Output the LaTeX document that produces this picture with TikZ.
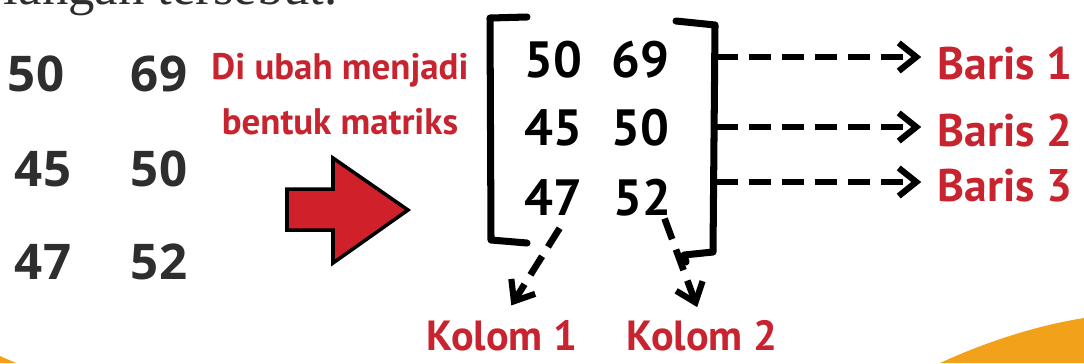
\documentclass[tikz,border=0pt]{standalone}
\usepackage{fontspec}
\usetikzlibrary{arrows.meta,positioning}
\newfontfamily\numfont{Open Sans}
\newfontfamily\handfont{PT Sans}
\newfontfamily\seriffont{Liberation Serif}
\definecolor{labelred}{HTML}{C8242F}
\definecolor{arrowred}{HTML}{D0202A}
\definecolor{numgray}{HTML}{2E2E2E}
\definecolor{bandorange}{HTML}{F2A11A}

\begin{document}
\begin{tikzpicture}[x=0.02cm,y=-0.02cm,
  num/.style={font=\numfont\bfseries\fontsize{28}{30}\selectfont,text=numgray,inner sep=0pt},
  entry/.style={font=\handfont\bfseries\fontsize{29}{30}\selectfont,inner sep=0pt},
  redlabel/.style={font=\handfont\bfseries\fontsize{26}{28}\selectfont,text=labelred,inner sep=0pt},
  bracket/.style={line width=4pt,line cap=round,line join=round},
  dasharrow/.style={line width=3.8pt,dash pattern=on 12.5pt off 6.3pt,
    -{Straight Barb[length=10pt,width=16pt,line width=3.5pt]}}]
\useasboundingbox (0,0) rectangle (1084,363);
\clip (0,0) rectangle (1084,363);
\fill[white] (0,0) rectangle (1084,363);
\fill[bandorange] (940,363) .. controls (990,340) and (1040,325) .. (1084,318) -- (1084,363) -- cycle;
\fill[bandorange] (0,356) .. controls (6,359) and (12,361) .. (16,363) -- (0,363) -- cycle;
\node[font=\seriffont\fontsize{30}{32}\selectfont,text=numgray,anchor=base east,inner sep=0pt] (caption) at (338,4) {langan tersebut.};

% numbers before
\node[num] (a11) at (36,74) {50};
\node[num] (a12) at (159,74) {69};
\node[num] (a21) at (43,169) {45};
\node[num] (a22) at (159,169) {50};
\node[num] (a31) at (43,262) {47};
\node[num] (a32) at (159,262) {52};

\node[redlabel,font=\handfont\bfseries\fontsize{21}{31}\selectfont,align=center,anchor=north] (note) at (340,53) {Di ubah menjadi\\bentuk matriks};
\draw[line width=2pt,fill=arrowred,line join=miter] (287,189) -- (333,189) -- (333,158) -- (408,210)
  -- (333,263) -- (333,230) -- (287,230) -- cycle;

% matrix
\node[entry] (m11) at (553,60) {50};
\node[entry] (m12) at (640,60) {69};
\node[entry] (m21) at (553,128) {45};
\node[entry] (m22) at (640,128) {50};
\node[entry] (m31) at (553,198) {47};
\node[entry] (m32) at (642,198) {52};
\draw[bracket] (527,17) -- (490,18) -- (491,240) -- (527,243);
\draw[bracket] (676,21) -- (715,25) -- (713,252) -- (684,255) -- (686,262);
\coordinate (r1) at (716,57);
\coordinate (r2) at (716,127);
\coordinate (r3) at (716,182);

% rows
\node[redlabel,anchor=west] (baris1) at (937,64) {Baris 1};
\node[redlabel,anchor=west] (baris2) at (937,131) {Baris 2};
\node[redlabel,anchor=west] (baris3) at (937,186) {Baris 3};
\draw[dasharrow,shorten >=9pt] (r1) -- (r1 -| baris1.west);
\draw[dasharrow,shorten >=9pt] (r2) -- (r2 -| baris2.west);
\draw[dasharrow,shorten >=9pt] (r3) -- (r3 -| baris3.west);

% columns
\node[redlabel,font=\handfont\bfseries\fontsize{24}{26}\selectfont] (kolom1) at (502,336) {Kolom 1};
\node[redlabel,font=\handfont\bfseries\fontsize{24}{26}\selectfont] (kolom2) at (702,336) {Kolom 2};
\draw[dasharrow,shorten <=8pt,shorten >=10pt] ([xshift=8pt]m31.south) -- (kolom1.north);
\draw[dasharrow,shorten <=1pt,shorten >=8pt] ([xshift=12.5pt]m32.south) -- (kolom2.north);
\end{tikzpicture}
\end{document}
